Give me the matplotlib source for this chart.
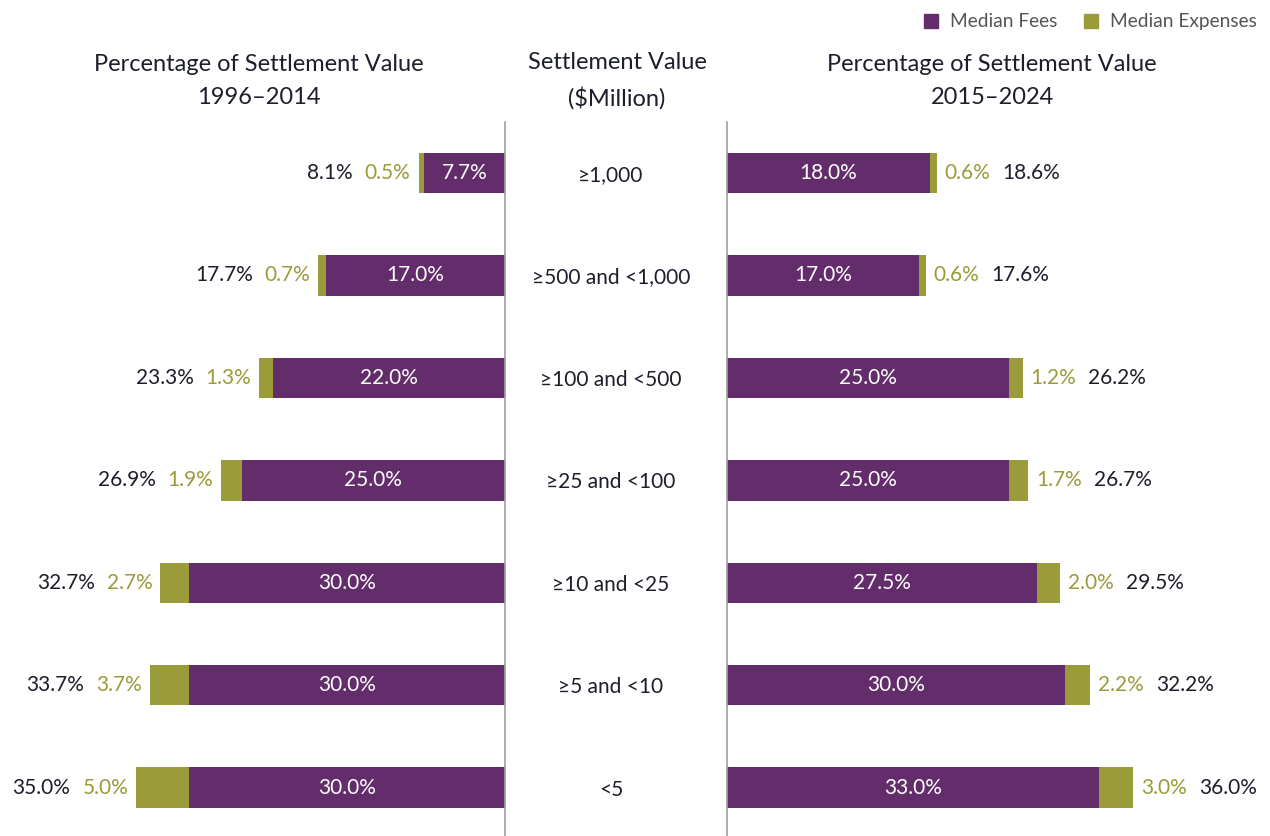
import numpy as np
import matplotlib
matplotlib.use("Agg")
import matplotlib.pyplot as plt
from matplotlib.patches import Patch

plt.rcParams['font.family'] = ['Lato', 'DejaVu Sans']

categories = ["≥1,000", "≥500 and <1,000", "≥100 and <500", "≥25 and <100",
              "≥10 and <25", "≥5 and <10", "<5"]
feesOld = [7.7, 17.0, 22.0, 25.0, 30.0, 30.0, 30.0]
expOld = [0.5, 0.7, 1.3, 1.9, 2.7, 3.7, 5.0]
totalOld = [8.1, 17.7, 23.3, 26.9, 32.7, 33.7, 35.0]
feesNew = [18.0, 17.0, 25.0, 25.0, 27.5, 30.0, 33.0]
expNew = [0.6, 0.6, 1.2, 1.7, 2.0, 2.2, 3.0]
totalNew = [18.6, 17.6, 26.2, 26.7, 29.5, 32.2, 36.0]

PURPLE = "#632c6a"
OLIVE = "#9a9b39"
DARK = "#1c1f2a"
W, H = 1270, 836

fig = plt.figure(figsize=(W / 100, H / 100), dpi=100)

# axes placed in pixel units
top, bottom = 121.7, 838.9
def px_axes(x0, x1):
    return fig.add_axes([x0 / W, 1 - bottom / H, (x1 - x0) / W, (bottom - top) / H])

axL = px_axes(0, 505)
axR = px_axes(727, 1270)
y = np.arange(len(categories))

def panel(ax, fees, exps, totals, sign, xmax):
    ax.barh(y, fees, height=0.395, color=PURPLE)
    ax.barh(y, exps, left=fees, height=0.395, color=OLIVE)
    ax.set_xlim(0, xmax)
    ax.set_ylim(6.5, -0.5)
    if sign < 0:
        ax.invert_xaxis()
    for s in ax.spines.values():
        s.set_visible(False)
    ax.set_xticks([])
    ax.set_yticks([])
    ha = 'right' if sign < 0 else 'left'
    for i in range(len(fees)):
        ax.text(fees[i] / 2, i, f"{fees[i]:.1f}%", ha='center', va='center',
                color='white', fontsize=15)
        t = ax.annotate(f"{exps[i]:.1f}%", xy=(fees[i] + exps[i], i),
                        xytext=(sign * 8, 0), textcoords='offset pixels',
                        ha=ha, va='center', color=OLIVE, fontsize=15)
        ax.annotate(f"{totals[i]:.1f}%", xy=(0 if sign < 0 else 1, 0.5), xycoords=t,
                    xytext=(sign * 12, 0), textcoords='offset pixels',
                    ha=ha, va='center', color=DARK, fontsize=15)

panel(axL, feesOld, expOld, totalOld, -1, 505 / 10.54)
panel(axR, feesNew, expNew, totalNew, 1, 543 / 11.28)

# divider lines
for xp in (505, 727):
    fig.add_artist(plt.Line2D([xp / W, xp / W], [0, 1 - 122 / H], color="#a0a0a0", lw=1.2))

# center labels
for i, c in enumerate(categories):
    yy = axL.transData.transform((0, i))[1]
    fig.text(611 / W, yy / H - 2 / H, c, ha='center', va='center', color=DARK, fontsize=15)

# titles
def title(x, txt):
    fig.text(x / W, 1 - 81 / H, txt, ha='center', va='center', color=DARK,
             fontsize=17, linespacing=1.7)

title(259, "Percentage of Settlement Value\n1996\u20132014")
title(617, "Settlement Value\n($Million)")
title(992, "Percentage of Settlement Value\n2015\u20132024")

handles = [Patch(color=PURPLE, label="Median Fees"), Patch(color=OLIVE, label="Median Expenses")]
fig.legend(handles=handles, loc='upper right', bbox_to_anchor=(1 + 4 / W, 1 + 4 / H), ncol=2,
           frameon=False, fontsize=13.8, handlelength=0.75, handleheight=0.75,
           handletextpad=0.6, columnspacing=1.4, labelcolor="#555555")

fig.savefig("out.png", dpi=100)
